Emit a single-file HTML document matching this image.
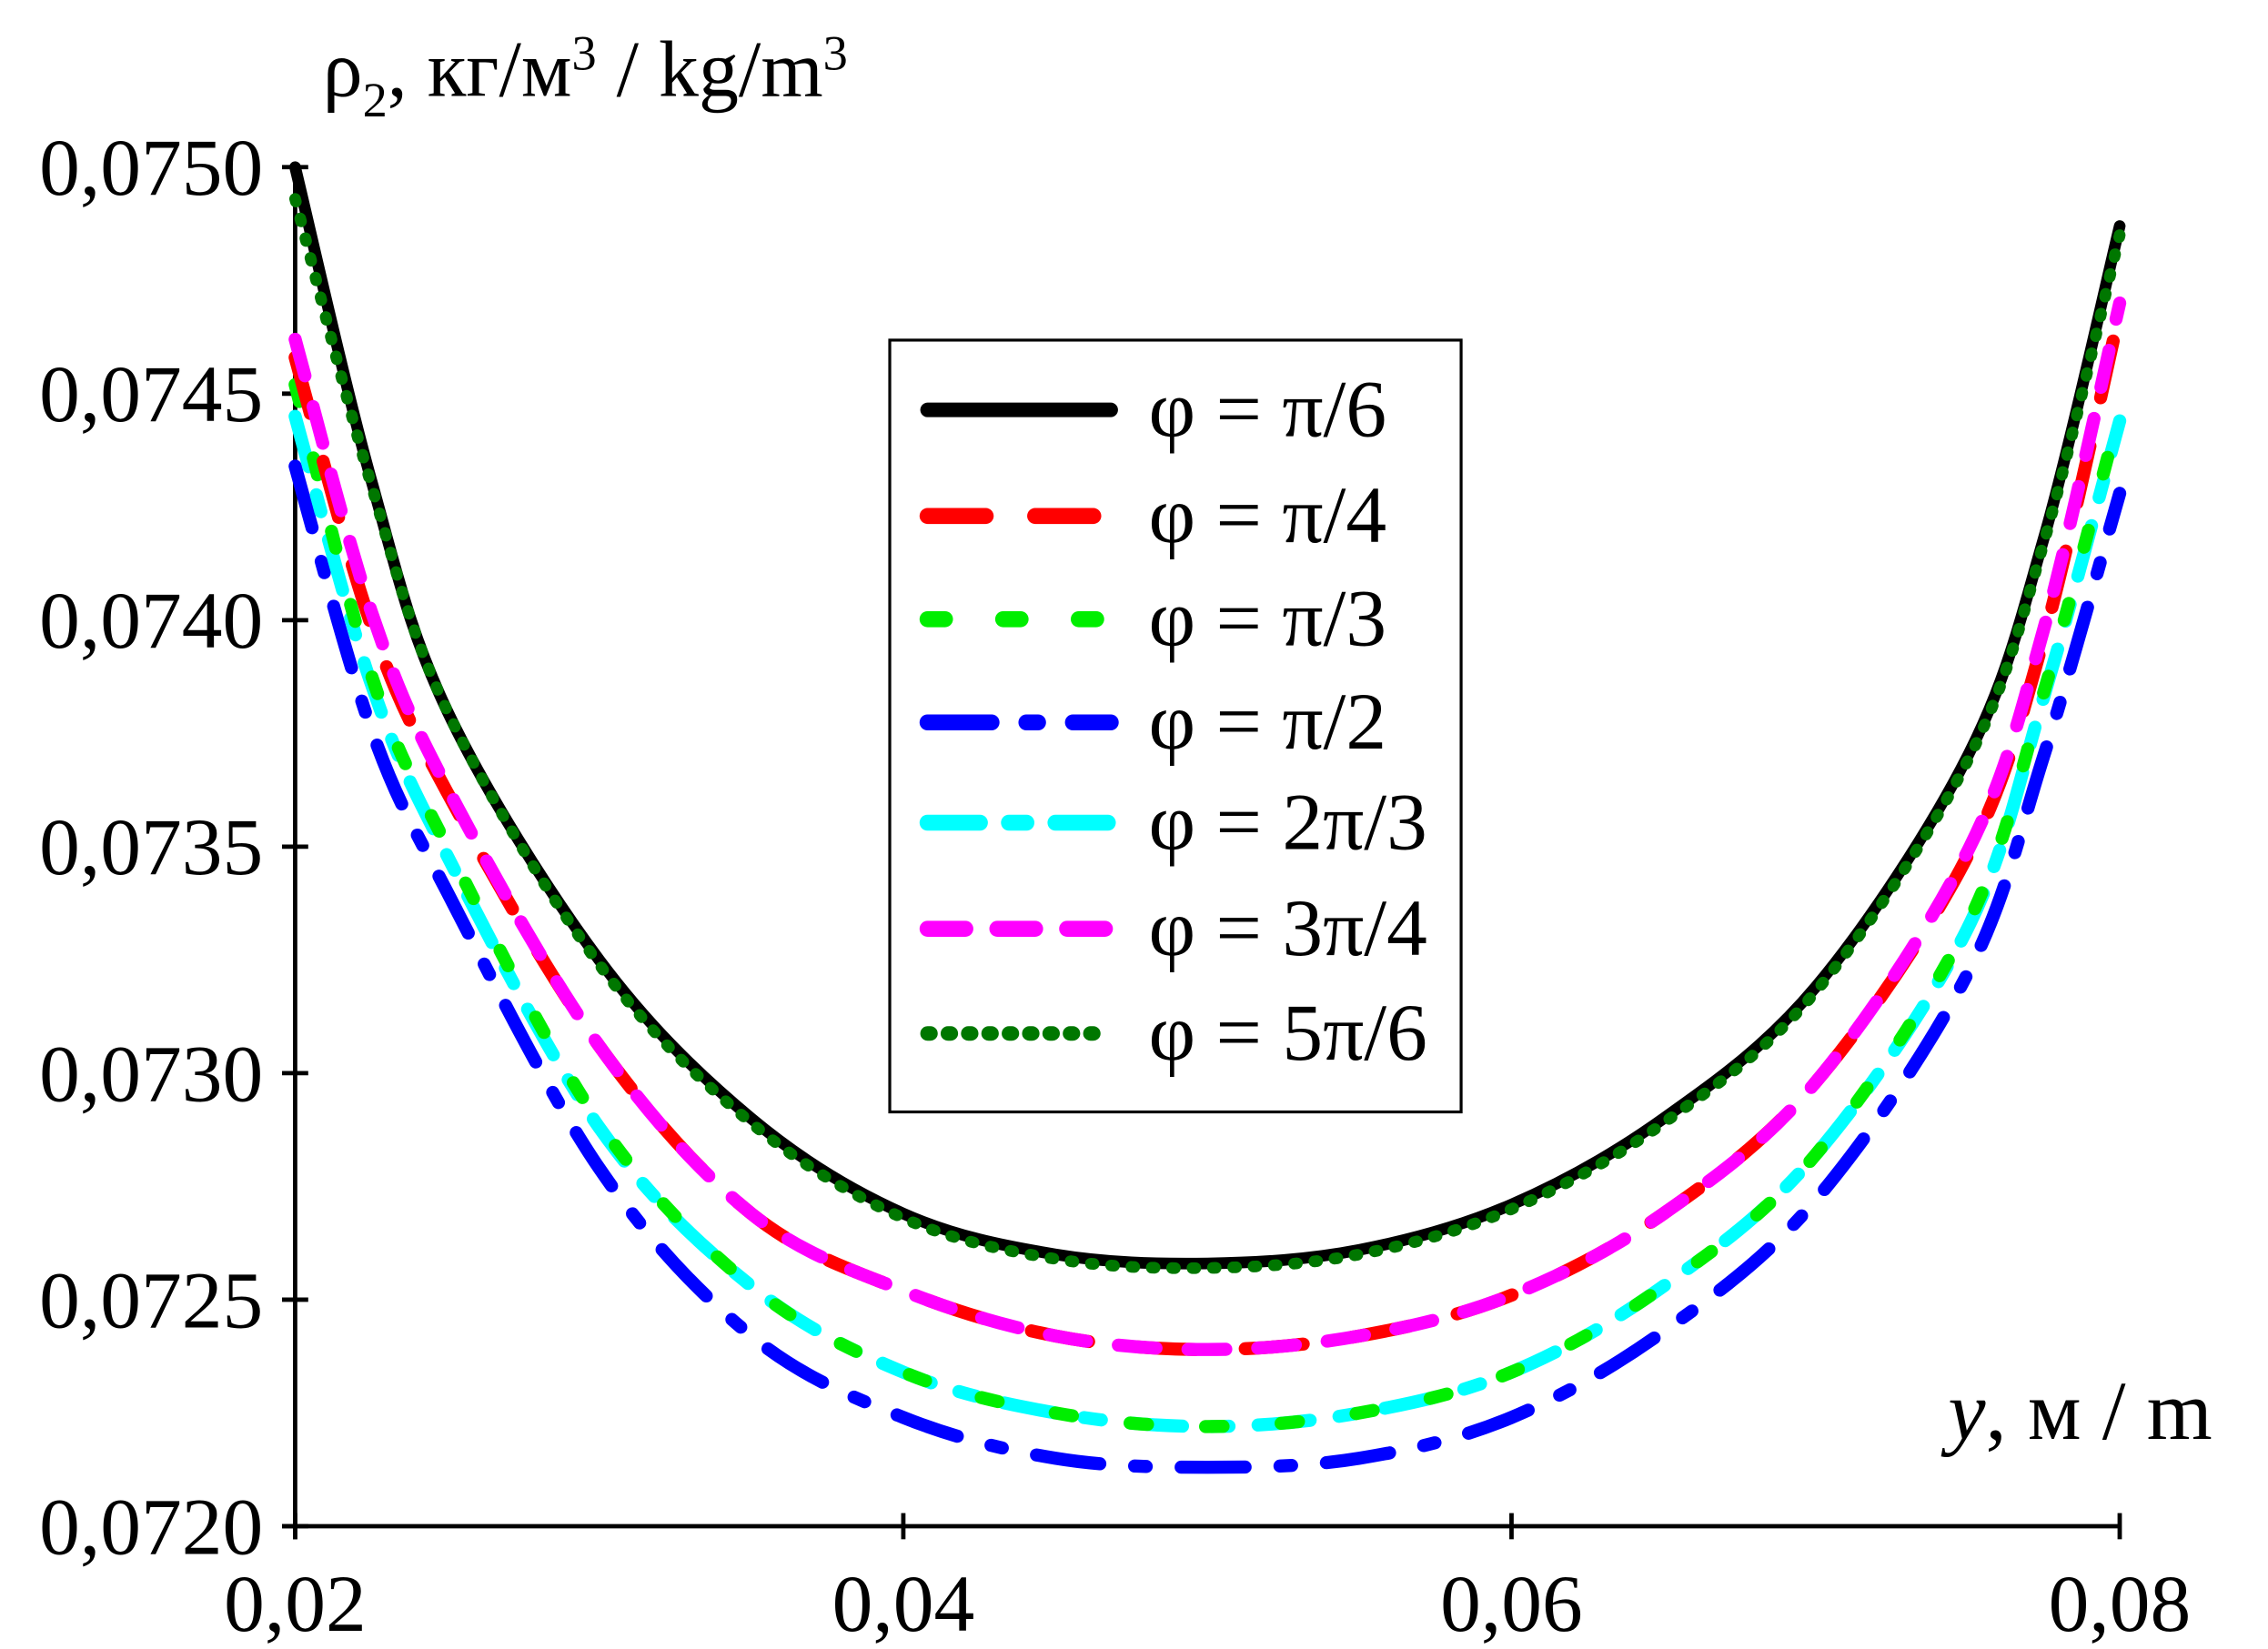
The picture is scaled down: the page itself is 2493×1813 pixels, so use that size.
<!DOCTYPE html>
<html><head><meta charset="utf-8"><style>
html,body{margin:0;padding:0;background:#fff}
svg{display:block}
text{font-family:"Liberation Serif",serif;fill:#000}
</style></head><body>
<svg id="chart" width="2493" height="1813" viewBox="0 0 1560 1134.5" preserveAspectRatio="none" xmlns="http://www.w3.org/2000/svg">
<g id="axes"></g>
<g id="series"></g>
<text x="222" y="66" font-size="55">ρ<tspan font-size="34" dy="14">2</tspan><tspan dy="-14">, кг/м</tspan><tspan font-size="34" dy="-18">3</tspan><tspan dy="18"> / kg/m</tspan><tspan font-size="34" dy="-18">3</tspan></text>
<text x="1340" y="990" font-size="58"><tspan font-style="italic">y</tspan>, м / m</text>
<g>
<rect x="612" y="234" width="393" height="531" fill="#fff" stroke="#000" stroke-width="2"/>
<g id="legend-items"></g>
</g>
</svg>
<script>
const xValues = [0.02,0.0225,0.025,0.03,0.035,0.04,0.045,0.05,0.055,0.06,0.065,0.07,0.075,0.0775,0.08];
const s_pi6  = [0.07500,0.07431,0.07380,0.07325,0.07290,0.07269,0.07260,0.07258,0.07261,0.07271,0.07290,0.07319,0.07370,0.07418,0.07487];
const s_pi4  = [0.07458,0.07399,0.07362,0.07306,0.07269,0.07252,0.07242,0.07239,0.07242,0.07251,0.07269,0.07298,0.07348,0.07396,0.07468];
const s_pi3  = [0.07452,0.07388,0.07350,0.07289,0.07253,0.07234,0.07225,0.07222,0.07225,0.07234,0.07253,0.07282,0.07333,0.07384,0.07446];
const s_pi2  = [0.07434,0.07376,0.07340,0.07279,0.07242,0.07224,0.07215,0.07213,0.07215,0.07224,0.07243,0.07272,0.07322,0.07370,0.07428];
const s_2pi3 = [0.07445,0.07386,0.07348,0.07288,0.07253,0.07234,0.07225,0.07222,0.07225,0.07234,0.07253,0.07282,0.07332,0.07383,0.07444];
const s_3pi4 = [0.07462,0.07402,0.07363,0.07306,0.07269,0.07252,0.07242,0.07239,0.07242,0.07251,0.07269,0.07298,0.07349,0.07398,0.07470];
const s_5pi6 = [0.07493,0.07430,0.07380,0.07324,0.07289,0.07268,0.07259,0.07257,0.07260,0.07270,0.07289,0.07318,0.07369,0.07417,0.07485];
const seriesNames = ["φ = π/6","φ = π/4","φ = π/3","φ = π/2","φ = 2π/3","φ = 3π/4","φ = 5π/6"];
const xTicks = [0.02,0.04,0.06,0.08];
const xTickLabels = ["0,02","0,04","0,06","0,08"];
const yTicks = [0.0720,0.0725,0.0730,0.0735,0.0740,0.0745,0.0750];
const yTickLabels = ["0,0720","0,0725","0,0730","0,0735","0,0740","0,0745","0,0750"];

const NS="http://www.w3.org/2000/svg";
const X0=203,X1=1458,Y0=1050,Y1=115;
function sx(v){return X0+(v-0.02)/(0.06)*(X1-X0);}
function sy(v){return Y0-(v-0.0720)/(0.0030)*(Y0-Y1);}
function mk(tag,attrs,parent){const e=document.createElementNS(NS,tag);for(const k in attrs)e.setAttribute(k,attrs[k]);parent.appendChild(e);return e;}

const axes=document.getElementById('axes');
let e;
e=mk('line',{x1:X0,y1:Y1,x2:X0,y2:Y0+9,stroke:'#000','stroke-width':3},axes);


e=mk('line',{x1:X0-9,y1:Y0,x2:X1,y2:Y0,stroke:'#000','stroke-width':3},axes);


xTicks.forEach((t,i)=>{
  const l=mk('line',{x1:sx(t),y1:Y0-9,x2:sx(t),y2:Y0+9,stroke:'#000','stroke-width':3},axes);
  
  
  const tx=mk('text',{x:sx(t),y:Y0+72,'font-size':56,'text-anchor':'middle'},axes);
  tx.textContent=xTickLabels[i];
  
  
});
yTicks.forEach((t,i)=>{
  const l=mk('line',{x1:X0-9,y1:sy(t),x2:X0+9,y2:sy(t),stroke:'#000','stroke-width':3},axes);
  
  
  const tx=mk('text',{x:X0-22,y:sy(t)+19,'font-size':56,'text-anchor':'end'},axes);
  tx.textContent=yTickLabels[i];
  
  
});

const allSeries=[s_pi6,s_pi4,s_pi3,s_pi2,s_2pi3,s_3pi4,s_5pi6];
const styles=[
 {c:'#000',w:8,d:'',cap:'round'},
 {c:'#ff0000',w:9,d:'40 34',cap:'round'},
 {c:'#00ee00',w:9,d:'12 40',cap:'round'},
 {c:'#0000ff',w:9,d:'44 24 8 24',cap:'round'},
 {c:'#00ffff',w:9,d:'36 20 12 20',cap:'round'},
 {c:'#ff00ff',w:9,d:'26 22',cap:'round'},
 {c:'#007700',w:8,d:'2 12',cap:'round'}
];
const drawOrder=[3,4,2,1,5,0,6];
function pathFor(vals){
  const p=xValues.map((x,i)=>[sx(x),sy(vals[i])]);
  let d='M'+p[0][0]+','+p[0][1];
  for(let i=0;i<p.length-1;i++){
    const p0=p[Math.max(0,i-1)],p1=p[i],p2=p[i+1],p3=p[Math.min(p.length-1,i+2)];
    const c1x=p1[0]+(p2[0]-p0[0])/6,c1y=p1[1]+(p2[1]-p0[1])/6;
    const c2x=p2[0]-(p3[0]-p1[0])/6,c2y=p2[1]-(p3[1]-p1[1])/6;
    d+=` C${c1x},${c1y} ${c2x},${c2y} ${p2[0]},${p2[1]}`;
  }
  return d;
}
const sg=document.getElementById('series');
drawOrder.forEach(i=>{
  const s=styles[i];
  const pa=mk('path',{d:pathFor(allSeries[i]),fill:'none',stroke:s.c,'stroke-width':s.w,'stroke-dasharray':s.d,'stroke-linecap':s.cap},sg);
  
  
});
const lg=document.getElementById('legend-items');
const legendY=[282,355,426,497,566,639,711];
seriesNames.forEach((n,i)=>{
  const s=styles[i];
  const l=mk('line',{x1:638,y1:legendY[i],x2:764,y2:legendY[i],stroke:s.c,'stroke-width':s.w+2,'stroke-dasharray':s.d,'stroke-linecap':s.cap},lg);
  
  
  const t=mk('text',{x:790,y:legendY[i]+18,'font-size':56},lg);
  t.textContent=n;
  
  
});
</script>
</body></html>
